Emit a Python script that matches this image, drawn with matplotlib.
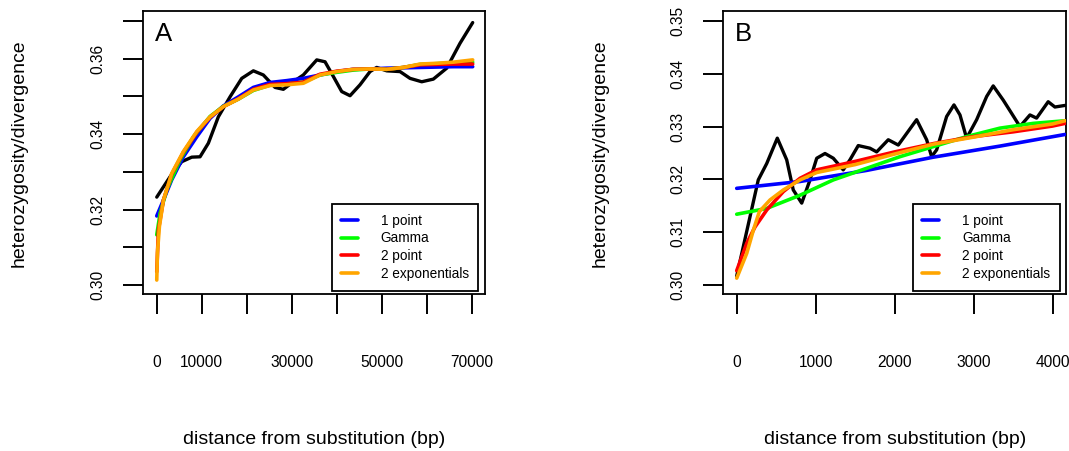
import matplotlib
matplotlib.use("Agg")
import matplotlib.pyplot as plt

plt.rcParams["font.family"] = ["Liberation Sans", "DejaVu Sans"]

# ---- panel A (0 - 70000 bp) ----
a_black_x = [0, 2956, 5556, 7778, 9622, 11470, 13690, 16290, 18890, 21470, 23690, 26290,
             28140, 30360, 32580, 35560, 37400, 39250, 41110, 42960, 45180, 47400, 48890,
             51110, 54070, 56290, 58890, 61470, 64440, 67400, 70220]
a_black_y = [0.3233, 0.3287, 0.3327, 0.3339, 0.3340, 0.3376, 0.3446, 0.3499, 0.3548, 0.3568,
             0.3557, 0.3524, 0.3519, 0.3539, 0.3557, 0.3597, 0.3592, 0.3553, 0.3513, 0.3502,
             0.3531, 0.3566, 0.3577, 0.3568, 0.3566, 0.3548, 0.3539, 0.3546, 0.3575, 0.3641,
             0.3696]

a_blue_x = [0, 1480, 3330, 5920, 8890, 11850, 14810, 18150, 21470, 25180, 28890, 32580,
            36290, 40000, 43700, 47400, 51110, 58520, 65920, 70220]
a_blue_y = [0.3183, 0.3225, 0.3279, 0.3340, 0.3393, 0.3442, 0.3475, 0.3499, 0.3524, 0.3537,
            0.3542, 0.3548, 0.3557, 0.3566, 0.3572, 0.3573, 0.3575, 0.3577, 0.3579, 0.3579]

a_green_x = [0, 740, 2220, 5180, 8150, 11850, 14810, 18150, 21470, 25180, 28890, 32580,
             36290, 40000, 43700, 47400, 51110, 54810, 58520, 62220, 65920, 70220]
a_green_y = [0.3133, 0.3190, 0.3252, 0.3332, 0.3393, 0.3447, 0.3474, 0.3493, 0.3516, 0.3530,
             0.3533, 0.3538, 0.3557, 0.3564, 0.3570, 0.3573, 0.3572, 0.3577, 0.3585, 0.3587,
             0.3589, 0.3591]

a_red_x = [0, 370, 1480, 3330, 5920, 8890, 11850, 14810, 18150, 21470, 25180, 28890, 32580,
           36290, 40000, 43700, 47400, 51110, 54810, 58520, 62220, 65920, 70220]
a_red_y = [0.3035, 0.3146, 0.3225, 0.3294, 0.3352, 0.3405, 0.3445, 0.3473, 0.3494, 0.3519,
           0.3532, 0.3534, 0.3538, 0.3559, 0.3567, 0.3572, 0.3573, 0.3572, 0.3577, 0.3584,
           0.3585, 0.3586, 0.3586]

a_orange_x = [0, 150, 590, 1480, 3330, 5920, 8890, 11850, 14810, 18150, 21470, 25180, 28890,
              32580, 36290, 40000, 43700, 47400, 51110, 54810, 58520, 62220, 65920, 70220]
a_orange_y = [0.3013, 0.3085, 0.3155, 0.3225, 0.3296, 0.3354, 0.3407, 0.3446, 0.3473, 0.3493,
              0.3517, 0.3529, 0.3531, 0.3535, 0.3557, 0.3566, 0.3572, 0.3573, 0.3572, 0.3577,
              0.3586, 0.3588, 0.3591, 0.3597]

a_xticks = [0, 10000, 20000, 30000, 40000, 50000, 60000, 70000]
a_xticklabels = ["0", "10000", "", "30000", "", "50000", "", "70000"]
a_yticks = [0.30, 0.31, 0.32, 0.33, 0.34, 0.35, 0.36, 0.37]
a_yticklabels = ["0.30", "", "0.32", "", "0.34", "", "0.36", ""]

# ---- panel B (0 - 4000 bp) ----
b_black_x = [0, 168, 273, 380, 514, 633, 716, 823, 928, 1013, 1118, 1223, 1349, 1434, 1539,
             1687, 1772, 1919, 2046, 2278, 2405, 2468, 2532, 2658, 2751, 2827, 2911, 3038,
             3165, 3248, 3375, 3481, 3586, 3713, 3797, 3944, 4029, 4156]
b_black_y = [0.3017, 0.3129, 0.3199, 0.3230, 0.3278, 0.3237, 0.3180, 0.3155, 0.3199, 0.3240,
             0.3249, 0.3240, 0.3218, 0.3237, 0.3264, 0.3259, 0.3252, 0.3275, 0.3265, 0.3313,
             0.3275, 0.3243, 0.3256, 0.3319, 0.3341, 0.3322, 0.3278, 0.3313, 0.3357, 0.3377,
             0.3350, 0.3325, 0.3300, 0.3322, 0.3316, 0.3347, 0.3337, 0.3340]

b_blue_x = [0, 802, 1646, 2489, 3333, 4156]
b_blue_y = [0.3183, 0.3196, 0.3217, 0.3242, 0.3263, 0.3285]

b_green_x = [0, 380, 802, 1223, 1646, 2068, 2489, 2911, 3333, 3755, 4156]
b_green_y = [0.3134, 0.3145, 0.3170, 0.3199, 0.3221, 0.3243, 0.3262, 0.3281, 0.3297, 0.3306,
             0.3311]

b_red_x = [0, 127, 232, 380, 591, 802, 1013, 1500, 2000, 2500, 3000, 3500, 4000, 4156]
b_red_y = [0.3027, 0.3079, 0.3110, 0.3142, 0.3177, 0.3202, 0.3218, 0.3234, 0.3252, 0.3268,
           0.3281, 0.3290, 0.3301, 0.3306]

b_orange_x = [0, 127, 211, 287, 422, 591, 802, 1013, 1500, 2000, 2500, 3000, 3500, 4000, 4156]
b_orange_y = [0.3013, 0.3060, 0.3104, 0.3139, 0.3161, 0.3180, 0.3199, 0.3213, 0.3228, 0.3248,
              0.3267, 0.3280, 0.3294, 0.3305, 0.3311]

b_xticks = [0, 1000, 2000, 3000, 4000]
b_xticklabels = ["0", "1000", "2000", "3000", "4000"]
b_yticks = [0.30, 0.31, 0.32, 0.33, 0.34, 0.35]
b_yticklabels = ["0.30", "0.31", "0.32", "0.33", "0.34", "0.35"]

legend_labels = ["1 point", "Gamma", "2 point", "2 exponentials"]
fit_colors = ["#0000ff", "#00ff00", "#ff0000", "#ffa500"]


def draw_panel(ax, letter, black, fits, xlim, ylim, xticks, xlabels, yticks, ylabels):
    ax.plot(black[0], black[1], color="black", lw=2.4, solid_capstyle="round",
            solid_joinstyle="round", zorder=2)
    handles = []
    for (xs, ys), color, label in zip(fits, fit_colors, legend_labels):
        (h,) = ax.plot(xs, ys, color=color, lw=2.6, solid_capstyle="round",
                       solid_joinstyle="round", label=label, zorder=3)
        handles.append(h)
    ax.set_xlim(*xlim)
    ax.set_ylim(*ylim)
    ax.set_xticks(xticks)
    ax.set_xticklabels(xlabels)
    ax.set_yticks(yticks)
    ax.set_yticklabels(ylabels, rotation=90, va="center")
    ax.tick_params(axis="both", direction="out", length=14.4, width=1.4, labelsize=11.2)
    ax.tick_params(axis="x", pad=29)
    ax.tick_params(axis="y", pad=13)
    for spine in ax.spines.values():
        spine.set_linewidth(1.3)
    ax.text(0.035, 0.894, letter, transform=ax.transAxes, fontsize=18.5, va="baseline")
    leg = ax.legend(handles=handles, loc="lower right", bbox_to_anchor=(0.98, 0.013),
                    borderaxespad=0, fontsize=9.8, handlelength=1.25, handletextpad=1.65,
                    borderpad=0.7, labelspacing=0.28, fancybox=False, framealpha=1)
    leg.get_frame().set_edgecolor("black")
    leg.get_frame().set_linewidth(1.3)
    for line in leg.get_lines():
        line.set_linewidth(2.6)


fig = plt.figure(figsize=(10.69, 4.51), dpi=100)
ax_a = fig.add_axes([0.1341, 0.3475, 0.3196, 0.6282])
ax_b = fig.add_axes([0.6766, 0.3475, 0.3210, 0.6282])

draw_panel(ax_a, "A", (a_black_x, a_black_y),
           [(a_blue_x, a_blue_y), (a_green_x, a_green_y), (a_red_x, a_red_y), (a_orange_x, a_orange_y)],
           (-2978, 72956), (0.29753, 0.37268), a_xticks, a_xticklabels, a_yticks, a_yticklabels)
draw_panel(ax_b, "B", (b_black_x, b_black_y),
           [(b_blue_x, b_blue_y), (b_green_x, b_green_y), (b_red_x, b_red_y), (b_orange_x, b_orange_y)],
           (-170, 4175), (0.29824, 0.35189), b_xticks, b_xticklabels, b_yticks, b_yticklabels)

fig.text(314 / 1069, 1 - 440 / 451, "distance from substitution (bp)", ha="center", va="center", fontsize=14)
fig.text(895 / 1069, 1 - 440 / 451, "distance from substitution (bp)", ha="center", va="center", fontsize=14)
fig.text(19 / 1069, 1 - 153 / 451, "heterozygosity/divergence", rotation=90, ha="center", va="center", fontsize=14)
fig.text(600 / 1069, 1 - 153 / 451, "heterozygosity/divergence", rotation=90, ha="center", va="center", fontsize=14)

fig.savefig("out.png", dpi=100)
